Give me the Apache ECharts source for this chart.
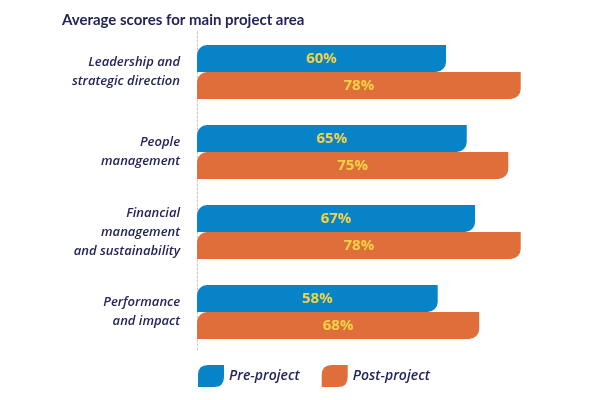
<!DOCTYPE html>
<html>
<head>
<meta charset="utf-8">
<script src="https://cdn.jsdelivr.net/npm/echarts@6/dist/echarts.min.js"></script>
<style>html,body{margin:0;padding:0;background:#fff}#c{width:600px;height:400px}</style>
</head>
<body>
<div id="c"></div>
<script>
var categories = ['Leadership and\nstrategic direction', 'People\nmanagement', 'Financial\nmanagement\nand sustainability', 'Performance\nand impact'];
var preProject = [60, 65, 67, 58];
var postProject = [78, 75, 78, 68];
var seriesNames = ['Pre-project', 'Post-project'];

var navy = '#24245a';
var leaf = 'path://M10,0 L26,0 L26,12 Q26,22 16,22 L0,22 L0,10 Q0,0 10,0 Z';
var chart = echarts.init(document.getElementById('c'));
var labelStyle = {
  show: true, position: 'inside', formatter: '{c}%',
  color: '#f3d24a', fontSize: 15, fontWeight: 'bold', fontFamily: 'Open Sans'
};
chart.setOption({
  animation: false,
  title: {
    text: 'Average scores for main project area',
    left: 57, top: 8,
    textStyle: { color: navy, fontSize: 15, fontWeight: 'bold', fontFamily: 'Lato' }
  },
  legend: {
    data: seriesNames,
    bottom: 8, left: 193,
    itemWidth: 26, itemHeight: 22, itemGap: 22,
    icon: leaf,
    textStyle: { color: navy, fontSize: 14, fontStyle: 'italic', fontWeight: 600, fontFamily: 'Open Sans' }
  },
  grid: { left: 197, right: 71, top: 32, bottom: 48, containLabel: false },
  xAxis: { type: 'value', min: 0, max: 80, show: false },
  yAxis: {
    type: 'category', data: categories, inverse: true, offset: 8,
    axisLine: { show: true, lineStyle: { color: '#c8c8c8', type: [2, 2], width: 1 } },
    axisTick: { show: false },
    axisLabel: {
      color: navy, fontSize: 13, fontStyle: 'italic', fontWeight: 600, fontFamily: 'Open Sans',
      lineHeight: 19, align: 'right', margin: 9
    }
  },
  series: [
    { name: seriesNames[0], type: 'bar', data: preProject, barWidth: 27, barGap: '0%',
      itemStyle: { color: '#0784c8', borderRadius: [10, 0, 10, 0] }, label: labelStyle },
    { name: seriesNames[1], type: 'bar', data: postProject, barWidth: 27, barGap: '0%',
      itemStyle: { color: '#e06e3a', borderRadius: [10, 0, 10, 0] }, label: labelStyle }
  ]
});
</script>
</body>
</html>
